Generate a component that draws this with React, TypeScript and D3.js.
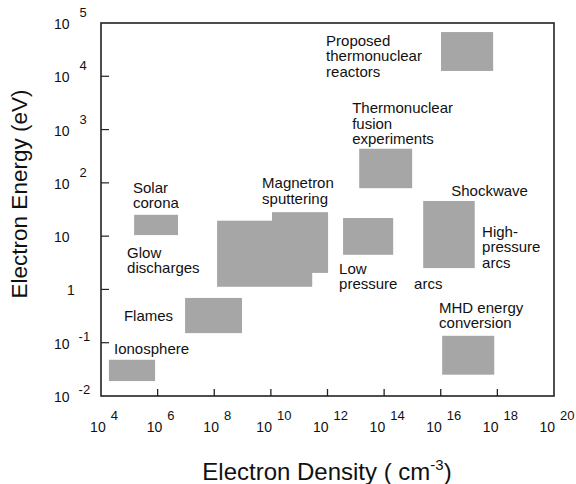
import React from "react";
import * as d3 from "d3";

// ---- data (log10 values) ----
const regionNames = [
  "Ionosphere",
  "Solar corona",
  "Flames",
  "Glow discharges",
  "Magnetron sputtering",
  "Low pressure arcs",
  "High-pressure arcs",
  "MHD energy conversion",
  "Thermonuclear fusion experiments",
  "Proposed thermonuclear reactors",
];
// electron density, log10 cm^-3 [from, to]
const densityLo = [4.28, 5.17, 6.97, 8.1, 10.04, 12.55, 15.38, 16.05, 13.12, 16.01];
const densityHi = [5.91, 6.72, 8.98, 11.46, 12.02, 14.32, 17.2, 17.89, 14.99, 17.85];
// electron energy, log10 eV [from, to]
const energyLo = [-1.72, 1.02, -0.82, 0.05, 0.31, 0.65, 0.4, -1.6, 1.9, 4.1];
const energyHi = [-1.32, 1.4, -0.16, 1.29, 1.45, 1.34, 1.66, -0.87, 2.64, 4.83];

const labelLines = [
  ["Ionosphere"],
  ["Solar", "corona"],
  ["Flames"],
  ["Glow", "discharges"],
  ["Magnetron", "sputtering"],
  ["Low", "pressure    arcs"],
  ["High-", "pressure", "arcs"],
  ["MHD energy", "conversion"],
  ["Thermonuclear", "fusion", "experiments"],
  ["Proposed", "thermonuclear", "reactors"],
  ["Shockwave"],
];
const labelDensity = [4.46, 5.13, 4.81, 4.92, 9.69, 12.41, 17.46, 15.94, 12.87, 11.95, 16.37];
const labelEnergy = [-1.21, 1.81, -0.59, 0.59, 1.9, 0.29, 0.985, -0.44, 3.31, 4.57, 1.75];

const xTickExps = [4, 6, 8, 10, 12, 14, 16, 18, 20];
const yTickExps = [5, 4, 3, 2, 1, 0, -1, -2];

const width = 576;
const height = 484;
const margin = { top: 23, right: 22, bottom: 88, left: 101 };

const x = d3
  .scaleLog()
  .domain([1e4, 1e20])
  .range([margin.left, width - margin.right]);
const y = d3
  .scaleLog()
  .domain([1e-2, 1e5])
  .range([height - margin.bottom, margin.top]);

const font = "'Liberation Sans', Arial, Helvetica, sans-serif";

export default function App() {
  const x0 = x.range()[0];
  const x1 = x.range()[1];
  const y0 = y.range()[0];
  const y1 = y.range()[1];

  return (
    <svg
      width={width}
      height={height}
      style={{ position: "absolute", left: 0, top: 0, background: "#fff" }}
      fontFamily={font}
    >
      {/* regions */}
      {regionNames.map((name, i) => (
        <rect
          key={name}
          x={x(10 ** densityLo[i])}
          y={y(10 ** energyHi[i])}
          width={x(10 ** densityHi[i]) - x(10 ** densityLo[i])}
          height={y(10 ** energyLo[i]) - y(10 ** energyHi[i])}
          fill="#a6a6a6"
        />
      ))}

      {/* frame */}
      <rect
        x={x0}
        y={y1}
        width={x1 - x0}
        height={y0 - y1}
        fill="none"
        stroke="#222"
        strokeWidth={1.6}
      />

      {/* bottom ticks */}
      {xTickExps.slice(1, -1).map((e) => (
        <line
          key={e}
          x1={x(10 ** e)}
          x2={x(10 ** e)}
          y1={y0}
          y2={y0 - 7}
          stroke="#222"
          strokeWidth={1.3}
        />
      ))}
      {xTickExps.map((e) => (
        <text key={e} x={x(10 ** e) + 3} y={432} textAnchor="middle" fontSize={14} fill="#111">
          10
          <tspan dx={5} dy={-12} fontSize={13}>
            {e}
          </tspan>
        </text>
      ))}

      {/* left ticks */}
      {yTickExps.slice(1, -1).map((e) => (
        <line
          key={e}
          x1={x0}
          x2={x0 + 8}
          y1={y(10 ** e)}
          y2={y(10 ** e)}
          stroke="#222"
          strokeWidth={1.2}
        />
      ))}
      {yTickExps.map((e) => {
        const ty = y(10 ** e) + 6;
        if (e === 0)
          return (
            <text key={e} x={71} y={ty} textAnchor="middle" fontSize={14} fill="#111">
              1
            </text>
          );
        return (
          <text key={e} x={54} y={ty} fontSize={14} fill="#111">
            10
            {e !== 1 && (
              <tspan dx={e < 0 ? 9 : 10} dy={e < 0 ? -8 : -12} fontSize={13}>
                {e < 0 ? "-" + Math.abs(e) : e}
              </tspan>
            )}
          </text>
        );
      })}

      {/* annotations */}
      {labelLines.map((lines, i) => (
        <text
          key={i}
          x={x(10 ** labelDensity[i])}
          y={y(10 ** labelEnergy[i])}
          fontSize={15}
          fill="#111"
          style={{ whiteSpace: "pre" }}
        >
          {lines.map((l, j) => (
            <tspan key={j} x={x(10 ** labelDensity[i])} dy={j === 0 ? 0 : 15.5}>
              {l}
            </tspan>
          ))}
        </text>
      ))}

      {/* axis titles */}
      <text
        transform={`translate(27,194) rotate(-90)`}
        textAnchor="middle"
        fontSize={22.5}
        fill="#111"
      >
        Electron Energy (eV)
      </text>
      <text x={327} y={480} textAnchor="middle" fontSize={24} fill="#111">
        Electron Density ( cm
        <tspan dy={-10} fontSize={15}>
          -3
        </tspan>
        <tspan dy={10}>)</tspan>
      </text>
    </svg>
  );
}
